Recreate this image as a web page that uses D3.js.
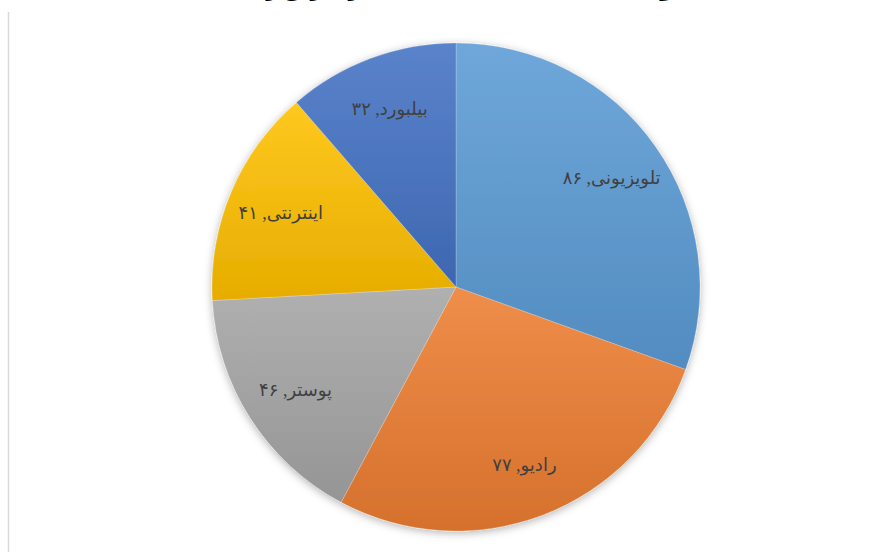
<!DOCTYPE html>
<html><head><meta charset="utf-8">
<script src="https://cdn.jsdelivr.net/npm/d3@7"></script>
<style>html,body{margin:0;padding:0;background:#fff;overflow:hidden}</style>
</head><body>
<div id="chart"></div>
<script>
const categories = ["تلویزیونی", "رادیو", "پوستر", "اینترنتی", "بیلبورد"];
const values = [86, 77, 46, 41, 32];
const baseColors = ["#5B9BD5", "#ED7D31", "#A5A5A5", "#FFC000", "#4472C4"];
const titleText = "نحوه آشنایی مخاطبان با تبلیغات از طریق رسانه ها";

const W = 887, H = 552;
const cx = 456, cy = 287, R = 244;

const svg = d3.select("#chart").append("svg").attr("width", W).attr("height", H);
const defs = svg.append("defs");

const f = defs.append("filter").attr("id", "sh").attr("x", "-10%").attr("y", "-10%").attr("width", "120%").attr("height", "120%");
f.append("feDropShadow").attr("dx", 0).attr("dy", 2).attr("stdDeviation", 4).attr("flood-color", "#000").attr("flood-opacity", 0.3);

baseColors.forEach((c, i) => {
  const g = defs.append("linearGradient").attr("id", "g" + i).attr("x1", 0).attr("y1", 0).attr("x2", 0).attr("y2", 1);
  g.append("stop").attr("offset", "0%").attr("stop-color", d3.interpolateRgb(c, "#fff")(0.12));
  g.append("stop").attr("offset", "100%").attr("stop-color", d3.interpolateRgb(c, "#000")(0.1));
});

// chart area left border
svg.append("line").attr("x1", 8.5).attr("x2", 8.5).attr("y1", 12).attr("y2", H)
  .attr("stroke", "#d9d9d9").attr("stroke-width", 1.5);

// title (cut off at top, as in the reference)
svg.append("text").attr("x", 443).attr("y", -4).attr("text-anchor", "middle")
  .attr("direction", "rtl")
  .style("font-family", "'Times New Roman','Liberation Serif','DejaVu Sans',serif")
  .style("font-size", "21px").style("font-weight", "bold").attr("fill", "#000")
  .text(titleText);

const data = categories.map((c, i) => ({ name: c, value: values[i], i }));
const pie = d3.pie().value(d => d.value).sort(null);
const arcs = pie(data);
const arc = d3.arc().innerRadius(0).outerRadius(R);
const labelArc = d3.arc().innerRadius(R * 0.78).outerRadius(R * 0.78);

const g = svg.append("g").attr("transform", `translate(${cx},${cy})`);
g.append("g").attr("filter", "url(#sh)")
  .selectAll("path").data(arcs).join("path")
  .attr("d", arc)
  .attr("fill", d => `url(#g${d.data.i})`)
  .attr("stroke", "#fff").attr("stroke-opacity", 0.35).attr("stroke-width", 0.6);

const fa = n => String(n).replace(/\d/g, d => "۰۱۲۳۴۵۶۷۸۹"[d]);

g.selectAll("text.lbl").data(arcs).join("text")
  .attr("class", "lbl")
  .attr("transform", d => `translate(${labelArc.centroid(d)})`)
  .attr("text-anchor", "middle").attr("dy", "0.35em")
  .attr("direction", "rtl")
  .style("font-family", "'Times New Roman','Liberation Serif','DejaVu Sans',serif")
  .style("font-size", "18px").attr("fill", "#404040")
  .text(d => `${d.data.name}, ${fa(d.data.value)}`);
</script>
</body></html>
